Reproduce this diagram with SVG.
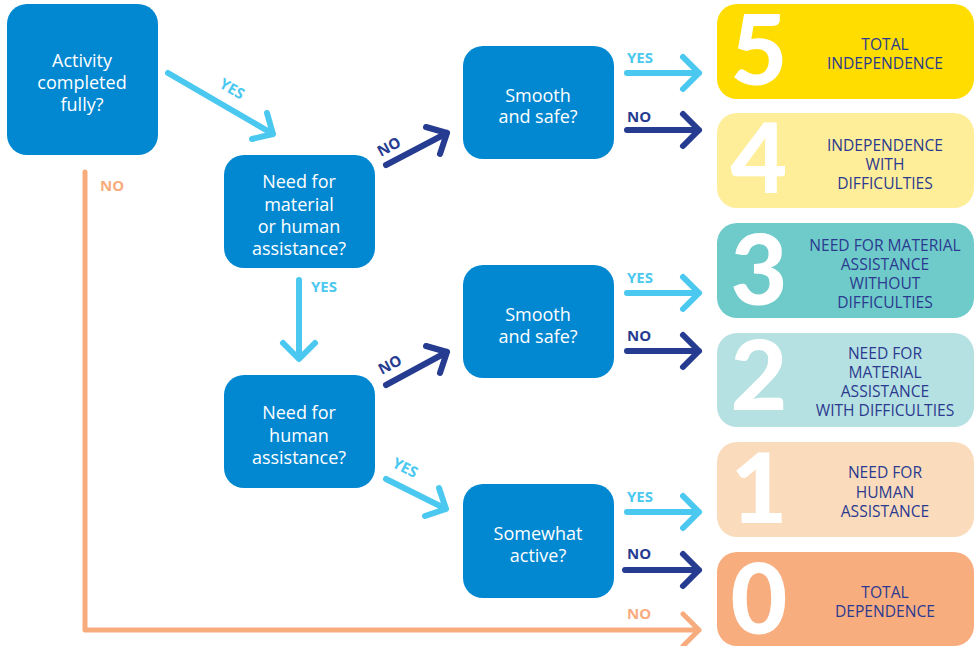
<svg xmlns="http://www.w3.org/2000/svg" width="980" height="646" viewBox="0 0 980 646">
<style>
.q{fill:#0288D1}
.qt{fill:#fff;font-family:"Open Sans","Liberation Sans",sans-serif;font-size:18px;text-anchor:middle}
.rt{fill:#2B3A8F;font-family:"Open Sans","Liberation Sans",sans-serif;font-size:15.6px;text-anchor:middle}
.dg{fill:#fff;font-family:Lato,"Open Sans",sans-serif;font-weight:900;font-size:98px;text-anchor:middle}
.a{fill:none;stroke-width:6;stroke-linecap:round;stroke-linejoin:round}
.y{stroke:#4BC8EF}
.n{stroke:#263C91}
.o{stroke:#F8AC7E;stroke-width:5}
.l{font-family:"Open Sans","Liberation Sans",sans-serif;font-weight:bold;font-size:15px}
.ly{fill:#4BC8EF}
.ln{fill:#263C91}
.lo{fill:#F8AC7E}
</style>
<g id="connectors">
<path class="a o" d="M85 172 V630 H699 M683 614 L699 630 L683 646"/>
<path class="a y" d="M168 73 L273 134 M267 113 L273 134 L252 139"/>
<path class="a n" d="M386 165 L447 133 M426 127 L447 133 L440 154"/>
<path class="a y" d="M299 280 V358 M283 343 L299 359 L315 343"/>
<path class="a n" d="M386 385 L447 352 M426 346 L447 352 L440 373"/>
<path class="a y" d="M386 479 L446 509 M439 488 L446 509 L425 516"/>
<path class="a y" d="M627 73 H699 M683 57 L699 73 L683 89"/>
<path class="a n" d="M627 130 H699 M683 114 L699 130 L683 146"/>
<path class="a y" d="M627 293 H699 M683 277 L699 293 L683 309"/>
<path class="a n" d="M627 351 H699 M683 335 L699 351 L683 367"/>
<path class="a y" d="M627 512 H699 M683 496 L699 512 L683 528"/>
<path class="a n" d="M625 570 H699 M683 554 L699 570 L683 586"/>
<text class="l lo" x="100" y="191">NO</text>
<text class="l ly" transform="translate(232 89) rotate(30)" text-anchor="middle" y="5">YES</text>
<text class="l ln" transform="translate(389 147) rotate(-28)" text-anchor="middle" y="5">NO</text>
<text class="l ly" x="311" y="292">YES</text>
<text class="l ln" transform="translate(390 365) rotate(-28)" text-anchor="middle" y="5">NO</text>
<text class="l ly" transform="translate(405 468) rotate(27)" text-anchor="middle" y="5">YES</text>
<text class="l ly" x="627" y="63">YES</text>
<text class="l ln" x="627" y="122">NO</text>
<text class="l ly" x="627" y="283">YES</text>
<text class="l ln" x="627" y="341">NO</text>
<text class="l ly" x="627" y="502">YES</text>
<text class="l ln" x="627" y="559">NO</text>
<text class="l lo" x="627" y="619">NO</text>
</g>
<g id="q1"><rect class="q" x="7" y="4" width="151" height="151" rx="20"/>
<text class="qt" x="82" y="67">Activity</text><text class="qt" x="82" y="89">completed</text><text class="qt" x="82" y="111">fully?</text></g>
<g id="q2"><rect class="q" x="224" y="155" width="151" height="113" rx="20"/>
<text class="qt" x="299" y="188">Need for</text><text class="qt" x="299" y="211">material</text><text class="qt" x="299" y="233">or human</text><text class="qt" x="299" y="255">assistance?</text></g>
<g id="q3"><rect class="q" x="463" y="46" width="151" height="113" rx="20"/>
<text class="qt" x="538" y="102">Smooth</text><text class="qt" x="538" y="123">and safe?</text></g>
<g id="q4"><rect class="q" x="463" y="265" width="151" height="113" rx="20"/>
<text class="qt" x="538" y="321">Smooth</text><text class="qt" x="538" y="343">and safe?</text></g>
<g id="q5"><rect class="q" x="224" y="375" width="151" height="113" rx="20"/>
<text class="qt" x="299" y="419">Need for</text><text class="qt" x="299" y="442">human</text><text class="qt" x="299" y="464">assistance?</text></g>
<g id="q6"><rect class="q" x="463" y="484" width="151" height="114" rx="20"/>
<text class="qt" x="538" y="540">Somewhat</text><text class="qt" x="538" y="562">active?</text></g>
<g id="r5"><rect x="717" y="4" width="257" height="95" rx="20" fill="#FFDD00"/>
<text class="dg" x="759" y="85">5</text>
<text class="rt" x="885" y="50">TOTAL</text><text class="rt" x="885" y="69">INDEPENDENCE</text></g>
<g id="r4"><rect x="717" y="113" width="257" height="95" rx="20" fill="#FFEE99"/>
<text class="dg" x="759" y="193">4</text>
<text class="rt" x="885" y="151">INDEPENDENCE</text><text class="rt" x="885" y="170">WITH</text><text class="rt" x="885" y="189">DIFFICULTIES</text></g>
<g id="r3"><rect x="717" y="223" width="257" height="95" rx="20" fill="#6ECBCA"/>
<text class="dg" x="759" y="305">3</text>
<text class="rt" x="885" y="251">NEED FOR MATERIAL</text><text class="rt" x="885" y="270">ASSISTANCE</text><text class="rt" x="885" y="289">WITHOUT</text><text class="rt" x="885" y="308">DIFFICULTIES</text></g>
<g id="r2"><rect x="717" y="333" width="257" height="94" rx="20" fill="#B6E1E2"/>
<text class="dg" x="759" y="410">2</text>
<text class="rt" x="885" y="359">NEED FOR</text><text class="rt" x="885" y="378">MATERIAL</text><text class="rt" x="885" y="397">ASSISTANCE</text><text class="rt" x="885" y="416">WITH DIFFICULTIES</text></g>
<g id="r1"><rect x="717" y="442" width="257" height="95" rx="20" fill="#FADCBC"/>
<text class="dg" x="759" y="523">1</text>
<text class="rt" x="885" y="478">NEED FOR</text><text class="rt" x="885" y="498">HUMAN</text><text class="rt" x="885" y="517">ASSISTANCE</text></g>
<g id="r0"><rect x="717" y="552" width="257" height="94" rx="20" fill="#F8AD7F"/>
<text class="dg" x="759" y="634">0</text>
<text class="rt" x="885" y="598">TOTAL</text><text class="rt" x="885" y="617">DEPENDENCE</text></g>
</svg>
